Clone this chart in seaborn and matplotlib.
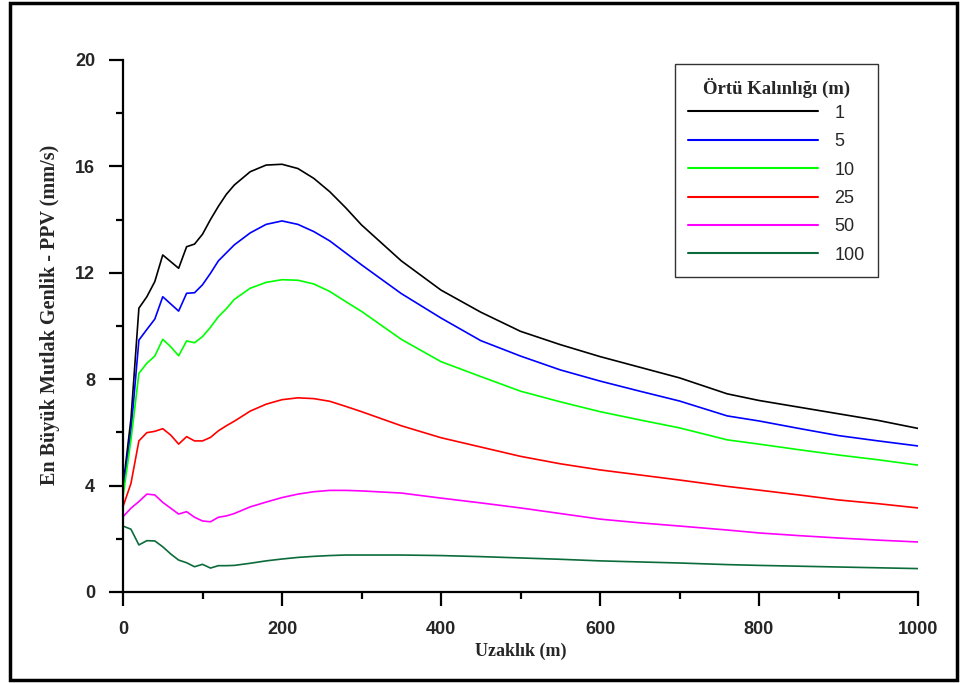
import matplotlib
matplotlib.use("Agg")
import matplotlib.pyplot as plt
import matplotlib.patches as mpatches
from matplotlib.ticker import MultipleLocator
import numpy as np
import pandas as pd
import seaborn as sns

distance = [0, 10, 20, 30, 40, 50, 60, 70, 80, 90, 100, 110, 120, 130, 140, 160, 180, 200,
            220, 240, 260, 280, 300, 350, 400, 450, 500, 550, 600, 650, 700, 760, 800, 850,
            900, 950, 1000]

ppv_1 = [3.96, 6.5, 10.67, 11.1, 11.67, 12.67, 12.42, 12.17, 12.98, 13.08, 13.45, 14.0, 14.5,
         14.95, 15.3, 15.8, 16.05, 16.08, 15.92, 15.55, 15.05, 14.45, 13.8, 12.45, 11.35,
         10.52, 9.8, 9.3, 8.85, 8.45, 8.05, 7.45, 7.2, 6.95, 6.7, 6.45, 6.15]
ppv_5 = [3.83, 6.03, 9.47, 9.87, 10.26, 11.1, 10.83, 10.56, 11.23, 11.25, 11.55, 11.98, 12.45,
         12.75, 13.05, 13.5, 13.82, 13.95, 13.82, 13.55, 13.2, 12.75, 12.3, 11.22, 10.3, 9.45,
         8.87, 8.35, 7.93, 7.55, 7.18, 6.62, 6.43, 6.15, 5.88, 5.68, 5.49]
ppv_10 = [3.58, 5.71, 8.22, 8.6, 8.87, 9.5, 9.22, 8.88, 9.44, 9.37, 9.6, 9.95, 10.35, 10.65,
          11.0, 11.42, 11.64, 11.74, 11.72, 11.58, 11.3, 10.92, 10.55, 9.5, 8.66, 8.1, 7.55,
          7.15, 6.78, 6.47, 6.17, 5.72, 5.56, 5.35, 5.15, 4.97, 4.77]
ppv_25 = [3.21, 4.08, 5.68, 5.99, 6.04, 6.14, 5.9, 5.56, 5.84, 5.68, 5.68, 5.81, 6.06, 6.25,
          6.42, 6.8, 7.06, 7.23, 7.3, 7.27, 7.17, 6.98, 6.78, 6.25, 5.8, 5.45, 5.1, 4.82, 4.59,
          4.4, 4.21, 3.97, 3.83, 3.65, 3.46, 3.32, 3.16]
ppv_50 = [2.83, 3.15, 3.4, 3.68, 3.65, 3.37, 3.15, 2.93, 3.02, 2.81, 2.67, 2.64, 2.81, 2.86,
          2.95, 3.2, 3.38, 3.55, 3.68, 3.77, 3.82, 3.82, 3.8, 3.72, 3.53, 3.35, 3.16, 2.95,
          2.74, 2.6, 2.48, 2.33, 2.22, 2.12, 2.03, 1.95, 1.88]
ppv_100 = [2.48, 2.36, 1.77, 1.93, 1.92, 1.7, 1.43, 1.2, 1.1, 0.95, 1.04, 0.9, 0.99, 0.99, 1.0,
           1.08, 1.17, 1.24, 1.3, 1.34, 1.37, 1.39, 1.39, 1.39, 1.37, 1.33, 1.28, 1.23, 1.17,
           1.13, 1.09, 1.03, 1.0, 0.97, 0.94, 0.91, 0.88]

thickness_labels = ["1", "5", "10", "25", "50", "100"]
series = [ppv_1, ppv_5, ppv_10, ppv_25, ppv_50, ppv_100]
colors = ["#000000", "#0000FF", "#00FF00", "#FF0000", "#FF00FF", "#0B6B3A"]

x_ticks = [0, 200, 400, 600, 800, 1000]
y_ticks = [0, 4, 8, 12, 16, 20]

rows = []
for lab, vals in zip(thickness_labels, series):
    for d, v in zip(distance, vals):
        rows.append({"Uzaklik": d, "PPV": v, "Kalinlik": lab})
df = pd.DataFrame(rows)

sns.set_style("white")
plt.rcParams["font.family"] = ["Liberation Sans", "DejaVu Sans"]

fig = plt.figure(figsize=(9.6, 6.83), dpi=100)
ax = fig.add_axes([123 / 960, 1 - 592 / 683, 795 / 960, 532 / 683])

sns.lineplot(data=df, x="Uzaklik", y="PPV", hue="Kalinlik", hue_order=thickness_labels,
             palette=dict(zip(thickness_labels, colors)), linewidth=1.2, ax=ax,
             estimator=None, sort=False)

ax.set_xlim(0, 1000)
ax.set_ylim(0, 20)
ax.set_xticks(x_ticks)
ax.set_yticks(y_ticks)
ax.xaxis.set_minor_locator(MultipleLocator(100))
ax.yaxis.set_minor_locator(MultipleLocator(2))
for s in ["top", "right"]:
    ax.spines[s].set_visible(False)
for s in ["left", "bottom"]:
    ax.spines[s].set_linewidth(1.6)
    ax.spines[s].set_color("black")

ax.tick_params(axis="both", which="both", bottom=True, left=True, top=False, right=False)
ax.tick_params(axis="both", which="major", direction="out", length=10, width=1.6,
               color="black", labelsize=13)
ax.tick_params(axis="both", which="minor", direction="out", length=5, width=1.6, color="black")
ax.tick_params(axis="x", which="major", pad=11)
ax.tick_params(axis="y", which="major", pad=10)
for lbl in ax.get_xticklabels() + ax.get_yticklabels():
    lbl.set_fontweight("bold")

ax.set_xlabel("Uzaklık (m)", fontsize=13, fontweight="bold", family="Liberation Serif",
              labelpad=3)
ax.set_ylabel("En Büyük Mutlak Genlik - PPV (mm/s)", fontsize=14.5, fontweight="bold",
              family="Liberation Serif")
ax.yaxis.set_label_coords(-0.079, 0.52)

handles, labels = ax.get_legend_handles_labels()
leg = ax.legend(handles, labels, title="Örtü Kalınlığı (m)", loc="upper left",
                bbox_to_anchor=(0.694, 0.992), frameon=True, fancybox=False,
                edgecolor="black", handlelength=7.2, handletextpad=0.9, fontsize=13,
                labelspacing=0.63, borderpad=0.75, borderaxespad=0)
leg.get_frame().set_linewidth(1.0)
leg.get_title().set_fontweight("bold")
leg.get_title().set_fontfamily("Liberation Serif")
leg.get_title().set_fontsize(13.5)
leg._legend_box.sep = 5
for line in leg.get_lines():
    line.set_linewidth(1.5)

frame = mpatches.Rectangle((10 / 960, 1 - 680 / 683), 947 / 960, 677 / 683,
                           transform=fig.transFigure, fill=False, edgecolor="black",
                           linewidth=2.5)
fig.patches.append(frame)

fig.savefig("out.png", dpi=100)
